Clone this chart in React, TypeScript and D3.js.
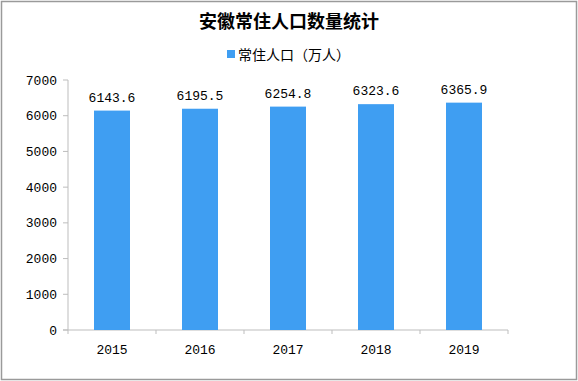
import React from "react";
import * as d3 from "d3";

const years = ["2015", "2016", "2017", "2018", "2019"];
const population = [6143.6, 6195.5, 6254.8, 6323.6, 6365.9];
const yTicks = [0, 1000, 2000, 3000, 4000, 5000, 6000, 7000];
const title = "安徽常住人口数量统计";
const seriesName = "常住人口（万人）";

export default function App() {
  const W = 578, H = 381;
  const x = d3.scaleBand<string>().domain(years).range([68, 508]).paddingInner(0).paddingOuter(0);
  const y = d3.scaleLinear().domain([0, 7000]).range([330, 80]);
  const barW = 36;
  const mono = "'Liberation Mono', 'DejaVu Sans Mono', monospace";
  const color = "#3f9ef2";
  const axisColor = "#bdbdbd";
  return (
    <svg width={W} height={H} style={{ position: "absolute", left: 0, top: 0, background: "#fff" }}>
      <rect x={1.5} y={1.5} width={575} height={378} fill="#fff" stroke="#9a9a9a" strokeWidth={1.5} />
      <text x={289} y={28} textAnchor="middle" fontSize={18} fontWeight="bold" fontFamily="'Noto Sans CJK SC', sans-serif" fill="#000">{title}</text>
      <rect x={227} y={50} width={8} height={8} fill={color} />
      <text x={238} y={59.5} fontSize={14} fontFamily="'Noto Sans CJK SC', sans-serif" fill="#000">{seriesName}</text>
      {/* y axis */}
      <line x1={68} x2={68} y1={80} y2={330} stroke={axisColor} />
      {yTicks.map((t) => (
        <g key={t}>
          <line x1={63} x2={68} y1={y(t)} y2={y(t)} stroke={axisColor} />
          <text x={57} y={y(t) + 4.5} textAnchor="end" fontSize={13} fontFamily={mono} fill="#000">{t}</text>
        </g>
      ))}
      {/* x axis */}
      <line x1={63} x2={508} y1={330} y2={330} stroke={axisColor} />
      {[...years.map((c) => x(c) as number), 508].map((px, i) => (
        <line key={i} x1={px} x2={px} y1={330} y2={334} stroke={axisColor} />
      ))}
      {years.map((c, i) => {
        const cx = (x(c) as number) + x.bandwidth() / 2;
        return (
          <g key={c}>
            <rect x={cx - barW / 2} y={y(population[i])} width={barW} height={330 - y(population[i])} fill={color} />
            <text x={cx} y={y(population[i]) - 9} textAnchor="middle" fontSize={13} fontFamily={mono} fill="#000">{population[i].toFixed(1)}</text>
            <text x={cx} y={354} textAnchor="middle" fontSize={13} fontFamily={mono} fill="#000">{c}</text>
          </g>
        );
      })}
    </svg>
  );
}
